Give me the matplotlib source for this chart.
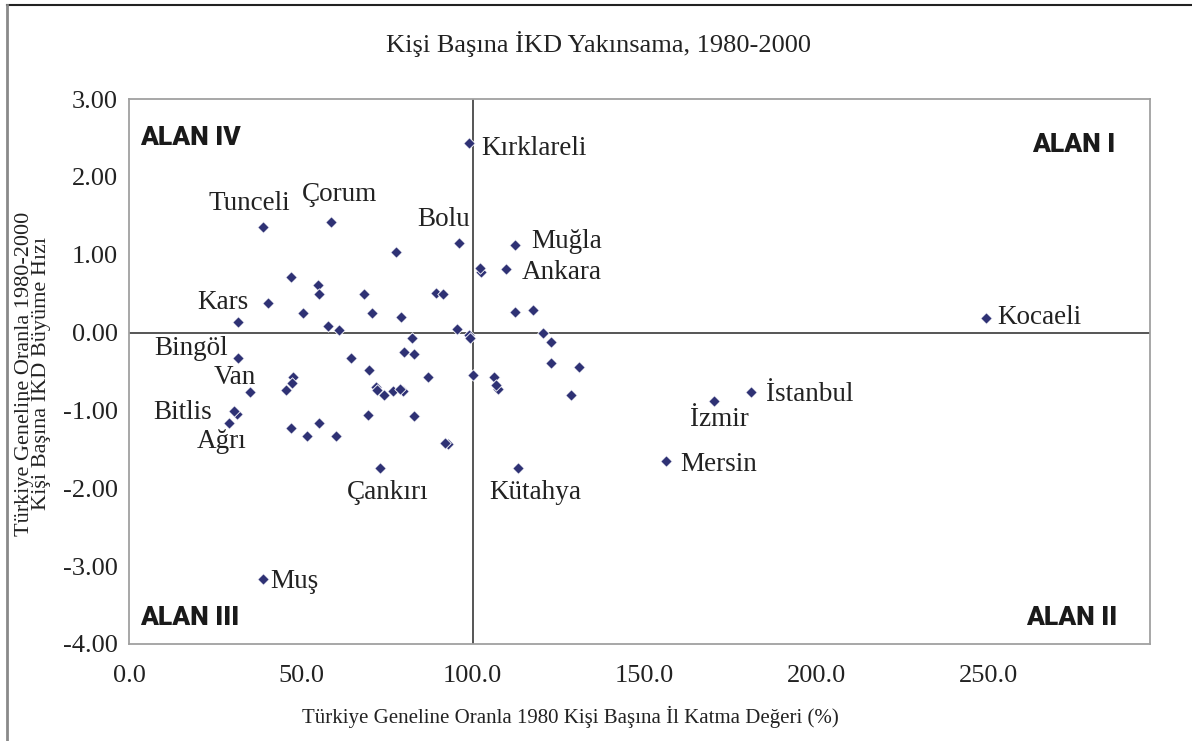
import matplotlib
matplotlib.use("Agg")
import matplotlib.pyplot as plt
from matplotlib.lines import Line2D

# data: x = 1980 per-capita value added vs Turkey (%), y = 1980-2000 growth vs Turkey
x_vals = [98.9, 58.9, 39.0, 95.9, 112.2, 77.8, 102.5, 102.0, 109.8, 47.1,
          54.9, 55.3, 68.4, 89.4, 91.4, 50.5, 70.7, 79.0, 112.2, 117.4,
          57.8, 61.2, 95.3, 98.9, 99.3, 120.4, 122.9, 82.2, 80.0, 82.9,
          64.5, 69.9, 122.9, 130.8, 47.8, 87.0, 100.1, 106.2, 40.5, 31.6,
          31.6, 35.2, 45.8, 47.3, 31.3, 30.5, 29.2, 47.1, 39.0, 107.4,
          106.7, 71.8, 72.0, 74.2, 76.7, 79.7, 78.8, 128.7, 69.6, 83.0,
          55.3, 51.8, 60.2, 92.8, 91.9, 73.0, 113.2, 249.4, 180.8, 170.1,
          156.2]
y_vals = [2.44, 1.42, 1.36, 1.15, 1.13, 1.03, 0.78, 0.83, 0.82, 0.72,
          0.61, 0.50, 0.50, 0.51, 0.50, 0.25, 0.25, 0.20, 0.26, 0.29,
          0.09, 0.03, 0.04, -0.03, -0.07, -0.01, -0.12, -0.07, -0.25, -0.27,
          -0.33, -0.48, -0.39, -0.44, -0.57, -0.57, -0.54, -0.57, 0.38, 0.14,
          -0.33, -0.76, -0.74, -0.65, -1.04, -1.01, -1.16, -1.22, -3.16, -0.72,
          -0.67, -0.70, -0.74, -0.80, -0.75, -0.75, -0.72, -0.80, -1.06, -1.07,
          -1.16, -1.33, -1.33, -1.43, -1.42, -1.74, -1.74, 0.19, -0.76, -0.88,
          -1.65]

# province labels: name, x, y, horizontal alignment
label_names = ["Kırklareli", "Çorum", "Tunceli", "Bolu", "Muğla", "Ankara",
               "Kars", "Bingöl", "Van", "Bitlis", "Ağrı", "Muş", "Çankırı",
               "Kütahya", "Kocaeli", "İstanbul", "İzmir", "Mersin"]
label_x = [102.5, 50.2, 46.8, 99.1, 117.1, 114.2, 34.9, 28.8, 36.9, 24.1,
           34.3, 41.0, 63.3, 104.7, 252.6, 185.2, 163.1, 160.5]
label_y = [2.37, 1.77, 1.66, 1.45, 1.17, 0.77, 0.38, -0.20, -0.58, -1.03,
           -1.40, -3.20, -2.06, -2.06, 0.19, -0.80, -1.12, -1.69]
label_ha = ["left", "left", "right", "right", "left", "left", "right",
            "right", "right", "right", "right", "left", "left", "left",
            "left", "left", "left", "left"]

x_ticks = [0, 50, 100, 150, 200, 250]
y_ticks = [3, 2, 1, 0, -1, -2, -3, -4]

serif = "Liberation Serif"
navy = "#2e3174"

fig = plt.figure(figsize=(11.92, 7.41), dpi=100)
ax = fig.add_axes([129 / 1192, 1 - 644 / 741, (1150 - 129) / 1192, (644 - 99) / 741])

ax.scatter(x_vals, y_vals, marker="D", s=34, color=navy, edgecolors="white",
           linewidths=0.6, zorder=3)

ax.axhline(0, color="#555555", lw=1.4, zorder=1)
ax.axvline(100, color="#555555", lw=1.4, zorder=1)

ax.set_xlim(0, 297)
ax.set_ylim(-4, 3)
ax.set_xticks(x_ticks)
ax.set_xticklabels([f"{v:.1f}" for v in x_ticks])
ax.set_yticks(y_ticks)
ax.set_yticklabels([f"{v:.2f}" for v in y_ticks])
ax.tick_params(axis="both", length=0, labelsize=19, colors="#222222")
ax.tick_params(axis="x", pad=15)
ax.tick_params(axis="y", pad=8)
for lab in ax.get_xticklabels() + ax.get_yticklabels():
    lab.set_family(serif)
for sp in ax.spines.values():
    sp.set_color("#a0a0a0")
    sp.set_linewidth(1.3)

for name, lx, ly, ha in zip(label_names, label_x, label_y, label_ha):
    ax.text(lx, ly, name, ha=ha, va="center", fontsize=19.5, family=serif,
            color="#222222")

# quadrant names
alan = dict(fontsize=19, fontweight="heavy", family=["Roboto", "DejaVu Sans"],
            color="#1a1a1a", transform=ax.transAxes, va="center")
ax.text(11 / 1021, 1 - 39 / 545, "ALAN IV", ha="left", **alan)
ax.text(1 - 35 / 1021, 1 - 46 / 545, "ALAN I", ha="right", **alan)
ax.text(11 / 1021, 26 / 545, "ALAN III", ha="left", **alan)
ax.text(1 - 33 / 1021, 26 / 545, "ALAN II", ha="right", **alan)

fig.text(598 / 1192, 1 - 44 / 741, "Kişi Başına İKD Yakınsama, 1980-2000",
         ha="center", va="center", fontsize=19, family=serif, color="#222222")
fig.text(570 / 1192, 1 - 717 / 741,
         "Türkiye Geneline Oranla 1980 Kişi Başına İl Katma Değeri (%)",
         ha="center", va="center", fontsize=15, family=serif, color="#222222")
fig.text(33 / 1192, 1 - 374 / 741,
         "Türkiye Geneline Oranla 1980-2000\nKişi Başına İKD Büyüme Hızı",
         ha="center", va="center", rotation=90, fontsize=16, family=serif,
         color="#222222", linespacing=0.75, multialignment="center")

# page frame
fig.add_artist(Line2D([7 / 1192, 1], [1 - 5 / 741, 1 - 5 / 741],
                      transform=fig.transFigure, color="#222222", lw=1.5))
fig.add_artist(Line2D([7 / 1192, 7 / 1192], [0, 1 - 5 / 741],
                      transform=fig.transFigure, color="#8a8a8a", lw=2))

fig.savefig("out.png", dpi=100)
